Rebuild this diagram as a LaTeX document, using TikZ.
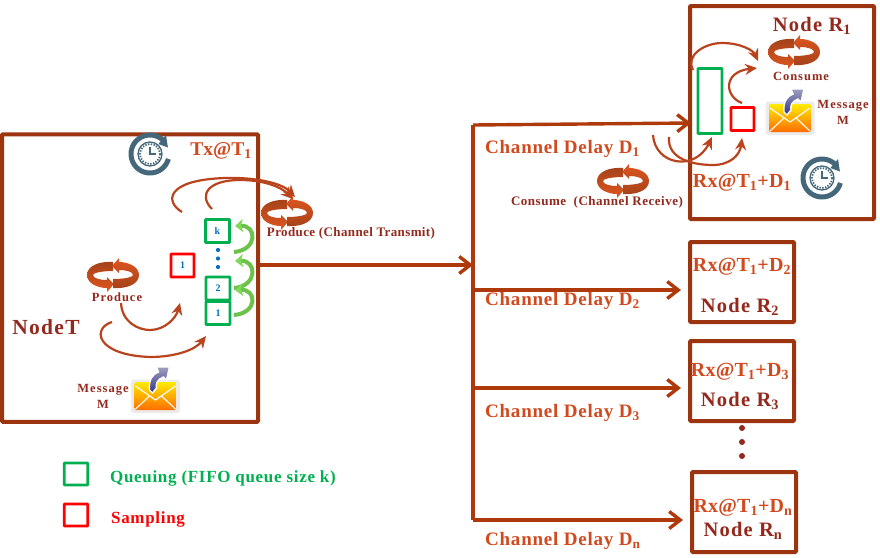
\documentclass[tikz,border=0pt]{standalone}
\usepackage{fontspec}
\setmainfont{Liberation Serif}
\usetikzlibrary{arrows.meta,calc}
\definecolor{boxc}{HTML}{9C3410}
\definecolor{linec}{HTML}{AE3A0C}
\definecolor{curvec}{HTML}{B8431C}
\definecolor{darkred}{HTML}{93291C}
\definecolor{orangered}{HTML}{D2491E}
\definecolor{qgreen}{HTML}{00B050}
\definecolor{sred}{HTML}{FF0000}
\definecolor{qblue}{HTML}{0070C0}
\definecolor{clockc}{HTML}{44687A}
\definecolor{gline}{HTML}{6CC24A}
\definecolor{ghead}{HTML}{7ED957}
\definecolor{cydark}{HTML}{A3421A}
\definecolor{cybright}{HTML}{E0561F}
\newcommand{\piecepath}{(0,-13) .. controls (-14,-14) and (-26,-9) .. (-26,0) .. controls (-26,8) and (-16,13) .. (-6,13) -- (-6,17) -- (1,9) -- (-6,2) -- (-6,5) .. controls (-14,5) and (-20,3) .. (-20,0) .. controls (-20,-2) and (-12,-4) .. (0,-4) -- cycle}
\tikzset{
  x=1pt,y=-1pt,
  nodebox/.style={draw=boxc,line width=4,rounded corners=1,inner sep=0,fill=none},
  qbox/.style={draw=qgreen,line width=2.6,rounded corners=.5,inner sep=0,minimum width=24,minimum height=23,text=qblue,font=\bfseries\fontsize{10}{10}\selectfont},
  sbox/.style={draw=sred,line width=2.6,rounded corners=.5,inner sep=0,minimum width=23,minimum height=23,text=qblue,font=\bfseries\fontsize{10}{10}\selectfont},
  link/.style={draw=linec,line width=3.4},
  linkarrow/.style={link,-{Straight Barb[length=11,width=17,line width=3.4]}},
  curve/.style={draw=curvec,line width=2.2,-{Stealth[length=12,width=11,inset=4]}},
  greencurve/.style={draw=gline,line width=4,-{Stealth[length=8,width=13,inset=2,color=ghead]}},
  tinylab/.style={inner sep=0,text=darkred,align=center,font=\bfseries\fontsize{12.5}{16}\selectfont\addfontfeature{LetterSpace=8}},
  titlelab/.style={inner sep=0,text=darkred,font=\bfseries\fontsize{20.5}{20}\selectfont\addfontfeature{LetterSpace=6}},
  rxlab/.style={inner sep=0,text=orangered,font=\bfseries\fontsize{20}{20}\selectfont\addfontfeature{LetterSpace=1}},
  delaylab/.style={inner sep=0,anchor=west,text=orangered,font=\bfseries\fontsize{19}{19}\selectfont\addfontfeature{LetterSpace=4}},
  legendlab/.style={inner sep=0,anchor=west,font=\bfseries\fontsize{17}{17}\selectfont\addfontfeature{LetterSpace=4}},
  cycleicon/.pic={
    \path[top color=cydark,bottom color=cybright,draw=none] \piecepath;
    \begin{scope}[rotate=180]
    \path[top color=cybright,bottom color=cydark,draw=none] \piecepath;
    \end{scope}
  },
  clockicon/.pic={
    \draw[clockc,line width=5] plot[domain=15:312,samples=40] ({19*cos(\x)},{19*sin(\x)});
    \fill[clockc] (8.4,-10) -- (16,-19) -- (17.9,-6.5) -- cycle;
    \draw[clockc,line width=1.3] (0,0) circle[radius=12];
    \draw[clockc,line width=1.8,dash pattern=on 1.4 off 1.4] (0,0) circle[radius=10];
    \draw[clockc,line width=1.6] (0,-7) -- (0,0) -- (6,0);
  },
  mailicon/.pic={
    \fill[black!8,rounded corners=3] (-24.5,-16.5) rectangle (24.5,17);
    \path[rounded corners=2,top color=yellow!85!orange,bottom color=orange!85!red] (-21,-14) rectangle (21,14);
    \draw[white,line width=1.1] (-20,-10) -- (0,4) -- (20,-10);
    \draw[white,line width=1.1] (-20,13) -- (-6,0) (20,13) -- (6,0);
    \path[draw=white,line width=1.4,top color=black!10!blue!25!gray!60,bottom color=blue!40!black!80] (-6,-6) .. controls (-7,-16) and (-3,-22) .. (3,-24) -- (1,-29) -- (14,-29) -- (11,-16) -- (8,-19) .. controls (2,-17) and (0,-12) .. (1,-8) -- (-3,-3) -- cycle;
  }
}
\begin{document}
\begin{tikzpicture}
\useasboundingbox (0,0) rectangle (880,557);
% node boxes
\node[nodebox,minimum width=256,minimum height=287.5] (nodeT) at (130,278) {};
\node[nodebox,minimum width=184,minimum height=213] (nodeR1) at (782,112.5) {};
\node[nodebox,minimum width=104,minimum height=80] (nodeR2) at (742,282) {};
\node[nodebox,minimum width=104,minimum height=80] (nodeR3) at (742,381) {};
\node[nodebox,minimum width=104,minimum height=80] (nodeRn) at (744,512) {};
% queue and sampling boxes of T
\node[qbox] (qk) at (217.5,231) {k};
\node[qbox] (q2) at (218,288.5) {2};
\node[qbox] (q1) at (218,313) {1};
\node[sbox] (s1) at (182.5,265.5) {1};
\foreach \n/\yy in {a/250,b/258.5,c/267} \fill[qblue] (218,\yy) circle[radius=2.1];
% queue and sampling boxes of R1
\node[draw=qgreen,line width=2.6,rounded corners=.5,minimum width=24,minimum height=65,inner sep=0] (qR) at (710,101) {};
\node[draw=sred,line width=2.6,rounded corners=.5,minimum width=23,minimum height=23,inner sep=0] (sR) at (742.5,119) {};
% channel
\coordinate (txout) at ($(nodeT.east)+(0,-13)$);
\coordinate (busIn) at (473,265);
\coordinate (busTop) at (473,125);
\coordinate (busBot) at (473,520);
\coordinate (b2) at (473,290);
\coordinate (b3) at (473,388);
\draw[linkarrow] (txout) -- (busIn);
\draw[link,line cap=square] (busTop) -- (busBot);
\draw[linkarrow] (busTop) -- ($(nodeR1.west)+(3,10.5)$);
\draw[linkarrow] (b2) -- ($(nodeR2.west)+(-7,8)$);
\draw[linkarrow] (b3) -- ($(nodeR3.west)+(-7,7)$);
\draw[linkarrow] (busBot) -- ($(nodeRn.west)+(-7,8)$);
% icons
\pic (cyT) at (287,213) {cycleicon};
\pic (cyP) at (113,275) {cycleicon};
\pic (cyC) at (623,181) {cycleicon};
\pic (cyR) at (794,52) {cycleicon};
\pic (clT) at (150,154) {clockicon};
\pic (clR) at (822,178) {clockicon};
\pic (mT) at (155.5,396) {mailicon};
\pic (mR) at (790,118) {mailicon};
% curved arrows in T
\coordinate (c1a) at (182,212); \coordinate (c1b) at (295,197);
\coordinate (c2a) at (212,209); \coordinate (c2b) at (293,199);
\draw[curve] (c1a) .. controls (165,202) and (165,180) .. (225,178) .. controls (255,177) and (282,183) .. (c1b);
\draw[curve] (c2a) .. controls (198,195) and (208,180) .. (240,180) .. controls (262,180) and (280,186) .. (c2b);
\coordinate (c3a) at (121,303); \coordinate (c3b) at (180,303);
\draw[curve] (c3a) .. controls (122,322) and (138,330) .. (150,330) .. controls (165,330) and (176,318) .. (c3b);
\coordinate (c4a) at (112,322); \coordinate (c4b) at (206,336);
\draw[curve] (c4a) .. controls (92,328) and (95,355) .. (150,357) .. controls (175,357) and (195,350) .. (c4b);
% green arrows
\coordinate (g1a) at (234,252); \coordinate (g1b) at (235,226);
\coordinate (g2a) at (234,288); \coordinate (g2b) at (235,261);
\coordinate (g3a) at (234,315); \coordinate (g3b) at (235,290);
\draw[greencurve] (g1a) .. controls (258,250) and (257,225) .. (g1b);
\draw[greencurve] (g2a) .. controls (258,286) and (257,260) .. (g2b);
\draw[greencurve] (g3a) .. controls (258,313) and (257,289) .. (g3b);
% curved arrows in R1
\coordinate (r1a) at (693,70); \coordinate (r1b) at (758,61);
\coordinate (r2a) at (742,103); \coordinate (r2b) at (757,68);
\coordinate (r3a) at (653,135); \coordinate (r3b) at (712,137);
\coordinate (r4a) at (669,137); \coordinate (r4b) at (742,138);
\draw[curve] (r1a) .. controls (685,55) and (705,43) .. (722,43) .. controls (740,43) and (753,50) .. (r1b);
\draw[curve] (r2a) .. controls (725,97) and (722,72) .. (r2b);
\draw[curve] (r3a) .. controls (655,165) and (695,172) .. (r3b);
\draw[curve] (r4a) .. controls (667,160) and (695,165) .. (713,165) .. controls (730,165) and (740,155) .. (r4b);
% labels
\node[titlelab,font=\bfseries\fontsize{21.5}{21}\selectfont\addfontfeature{LetterSpace=6}] (tNodeT) at (46,327) {NodeT};
\node[rxlab,font=\bfseries\fontsize{19.5}{19}\selectfont] (tTx) at (221,151) {Tx@T\textsubscript{1}};
\node[tinylab] (tProd) at (117,297) {Produce};
\node[tinylab,font=\bfseries\fontsize{13}{13}\selectfont\addfontfeature{LetterSpace=3}] (tProdCh) at (351,233) {Produce (Channel Transmit)};
\node[tinylab] (tMsgT) at (103,396) {Message\\M};
\node[titlelab] (tR1) at (812,26) {Node R\textsubscript{1}};
\node[tinylab] (tCons) at (801,76) {Consume};
\node[tinylab] (tMsgR) at (843,112) {Message\\M};
\node[rxlab] (tRx1) at (742,183) {Rx@T\textsubscript{1}+D\textsubscript{1}};
\node[tinylab,font=\bfseries\fontsize{13}{13}\selectfont\addfontfeature{LetterSpace=4}] (tConsCh) at (597,202) {Consume\ \ (Channel Receive)};
\node[delaylab] (tD1) at (485,149) {Channel Delay D\textsubscript{1}};
\node[delaylab] (tD2) at (485,301) {Channel Delay D\textsubscript{2}};
\node[delaylab] (tD3) at (485,413) {Channel Delay D\textsubscript{3}};
\node[delaylab] (tDn) at (485,541) {Channel Delay D\textsubscript{n}};
\node[rxlab] (tRx2) at (742,267) {Rx@T\textsubscript{1}+D\textsubscript{2}};
\node[titlelab] (tR2) at (740,307) {Node R\textsubscript{2}};
\node[rxlab] (tRx3) at (740,372) {Rx@T\textsubscript{1}+D\textsubscript{3}};
\node[titlelab] (tR3) at (740,401) {Node R\textsubscript{3}};
\node[rxlab] (tRxn) at (743,508) {Rx@T\textsubscript{1}+D\textsubscript{n}};
\node[titlelab] (tRn) at (743,531) {Node R\textsubscript{n}};
\foreach \yy in {428,442,456} \fill[darkred] (742,\yy) circle[radius=3];
% legend
\node[draw=qgreen,line width=2.6,rounded corners=.5,minimum width=23.5,minimum height=22,inner sep=0] (lgQ) at (76,474) {};
\node[draw=sred,line width=2.6,rounded corners=.5,minimum width=23.5,minimum height=22,inner sep=0] (lgS) at (76,515) {};
\node[legendlab,text=qgreen] (tQ) at (110,478) {Queuing (FIFO queue size k)};
\node[legendlab,text=sred] (tS) at (111,519) {Sampling};
\end{tikzpicture}
\end{document}
